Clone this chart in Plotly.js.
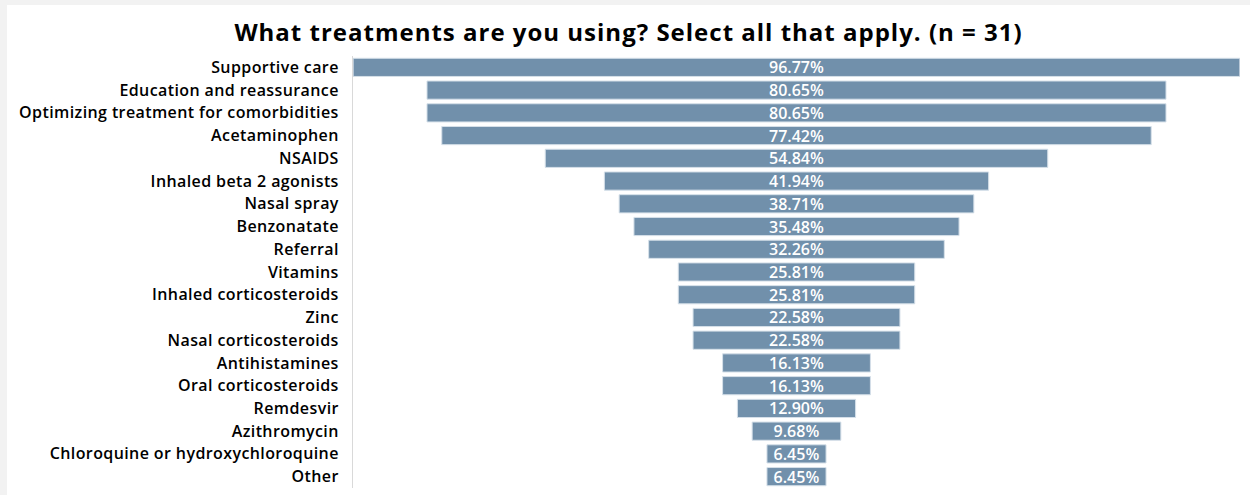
<!DOCTYPE html>
<html><head><meta charset="utf-8">
<script src="https://cdn.plot.ly/plotly-3.0.1.min.js"></script>
<style>
html,body{margin:0;padding:0;background:#f2f2f2;}
#chart{position:absolute;left:7px;top:5px;width:1243px;height:490px;background:#fff;}
#chart .ytick text{letter-spacing:0.4px;}
#chart .gtitle{letter-spacing:1px;}
#chart .textpoint text{letter-spacing:0.6px;}
</style></head>
<body><div id="chart"></div>
<script>
const categories = ["Supportive care","Education and reassurance","Optimizing treatment for comorbidities","Acetaminophen","NSAIDS","Inhaled beta 2 agonists","Nasal spray","Benzonatate","Referral","Vitamins","Inhaled corticosteroids","Zinc","Nasal corticosteroids","Antihistamines","Oral corticosteroids","Remdesvir","Azithromycin","Chloroquine or hydroxychloroquine","Other"];
const percents = [96.77,80.65,80.65,77.42,54.84,41.94,38.71,35.48,32.26,25.81,25.81,22.58,22.58,16.13,16.13,12.90,9.68,6.45,6.45];

const trace = {
  type:'funnel',
  y: categories,
  x: percents,
  texttemplate:'%{x:.2f}%',
  textposition:'inside',
  insidetextanchor:'middle',
  constraintext:'none',
  textangle:0,
  textfont:{color:'#ffffff', size:16, family:'Open Sans, sans-serif', weight:600},
  marker:{color:'#7190ab', line:{color:'#d6e0e9', width:1}},
  connector:{visible:false},
  hoverinfo:'none'
};
const layout = {
  width:1243, height:490,
  margin:{l:346, r:10, t:51, b:7},
  paper_bgcolor:'#ffffff', plot_bgcolor:'#ffffff',
  title:{text:'<b>What treatments are you using? Select all that apply. (n = 31)</b>', x:0.5, xanchor:'center', y:0.943, yanchor:'middle', font:{family:'Open Sans, sans-serif', size:24, color:'#000'}},
  xaxis:{range:[-48.4,48.4], visible:false, showgrid:false, zeroline:false},
  yaxis:{autorange:'reversed', showline:true, linecolor:'#d9d9d9', linewidth:1, ticks:'', tickfont:{family:'Open Sans, sans-serif', size:16, color:'#000', weight:600}, ticklabelstandoff:10},
  bargap:0.1,
  showlegend:false
};
Plotly.newPlot('chart',[trace],layout,{displayModeBar:false, staticPlot:true});
</script></body></html>
